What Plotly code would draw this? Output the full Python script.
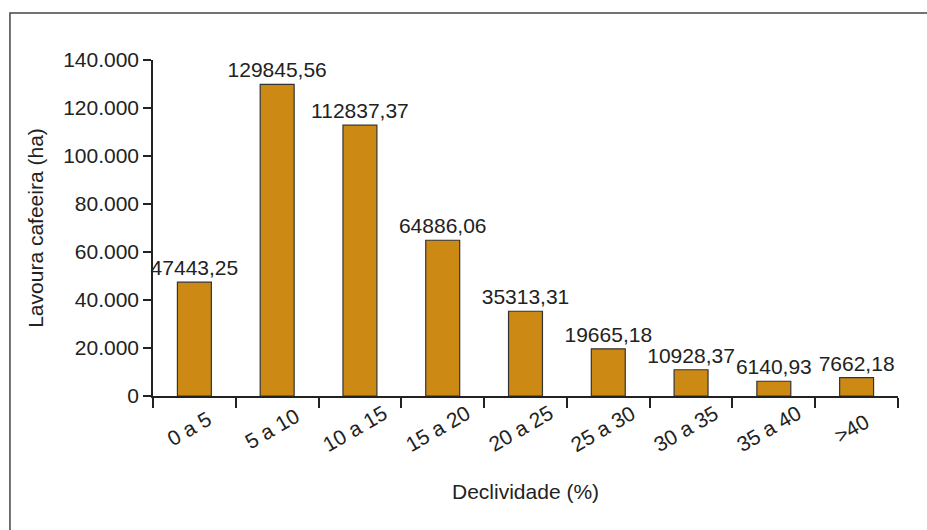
import plotly.graph_objects as go

# Área de lavoura cafeeira por classe de declividade
classes = ["0 a 5", "5 a 10", "10 a 15", "15 a 20", "20 a 25",
           "25 a 30", "30 a 35", "35 a 40", ">40"]
area_ha = [47443.25, 129845.56, 112837.37, 64886.06, 35313.31,
           19665.18, 10928.37, 6140.93, 7662.18]
y_ticks = [0, 20000, 40000, 60000, 80000, 100000, 120000, 140000]

FONT = "Liberation Sans, Arial, sans-serif"
INK = "#222222"
FS = 21

fig = go.Figure(
    go.Bar(
        x=classes,
        y=area_ha,
        marker=dict(color="#CC8A14", line=dict(color="#333333", width=1.2)),
        texttemplate="%{y:.2f}",
        textposition="outside",
        constraintext="none",
        textfont=dict(family=FONT, size=FS, color=INK),
        cliponaxis=False,
    )
)

# rótulos das classes inclinados, centrados sob cada barra
class_labels = [
    dict(text=c, xref="x", yref="paper", x=c, y=-0.098,
         xanchor="center", yanchor="middle", xshift=-5, textangle=-30,
         showarrow=False, font=dict(family=FONT, size=FS, color=INK))
    for c in classes
]

fig.update_layout(
    width=927,
    height=530,
    margin=dict(l=153, r=29, t=60, b=134),
    paper_bgcolor="white",
    plot_bgcolor="white",
    separators=",.",
    bargap=0.59,
    showlegend=False,
    font=dict(family=FONT, size=FS, color=INK),
    xaxis=dict(
        tickson="boundaries",
        ticks="outside",
        ticklen=10,
        tickwidth=1.5,
        tickcolor=INK,
        showticklabels=False,
        showline=True,
        linecolor=INK,
        linewidth=1.5,
        showgrid=False,
    ),
    yaxis=dict(
        title=dict(text="Lavoura cafeeira (ha)", font=dict(size=FS), standoff=14),
        range=[0, 140000],
        tickvals=y_ticks,
        tickformat=",d",
        ticks="outside",
        ticklen=8,
        tickwidth=1.5,
        tickcolor=INK,
        showline=True,
        linecolor=INK,
        linewidth=1.5,
        showgrid=False,
        zeroline=False,
        tickfont=dict(size=FS),
    ),
    annotations=class_labels + [
        # título do eixo x
        dict(text="Declividade (%)", xref="paper", yref="paper",
             x=0.5, y=-0.285, xanchor="center", yanchor="middle",
             showarrow=False, font=dict(family=FONT, size=FS, color=INK)),
    ],
    shapes=[
        # moldura do gráfico (borda superior e esquerda visíveis)
        dict(type="rect", xref="paper", yref="paper",
             x0=-0.192, x1=1.3, y0=-0.6, y1=1.14,
             line=dict(color="#444444", width=1.5), layer="below"),
    ],
)

fig.write_html("out.html")
